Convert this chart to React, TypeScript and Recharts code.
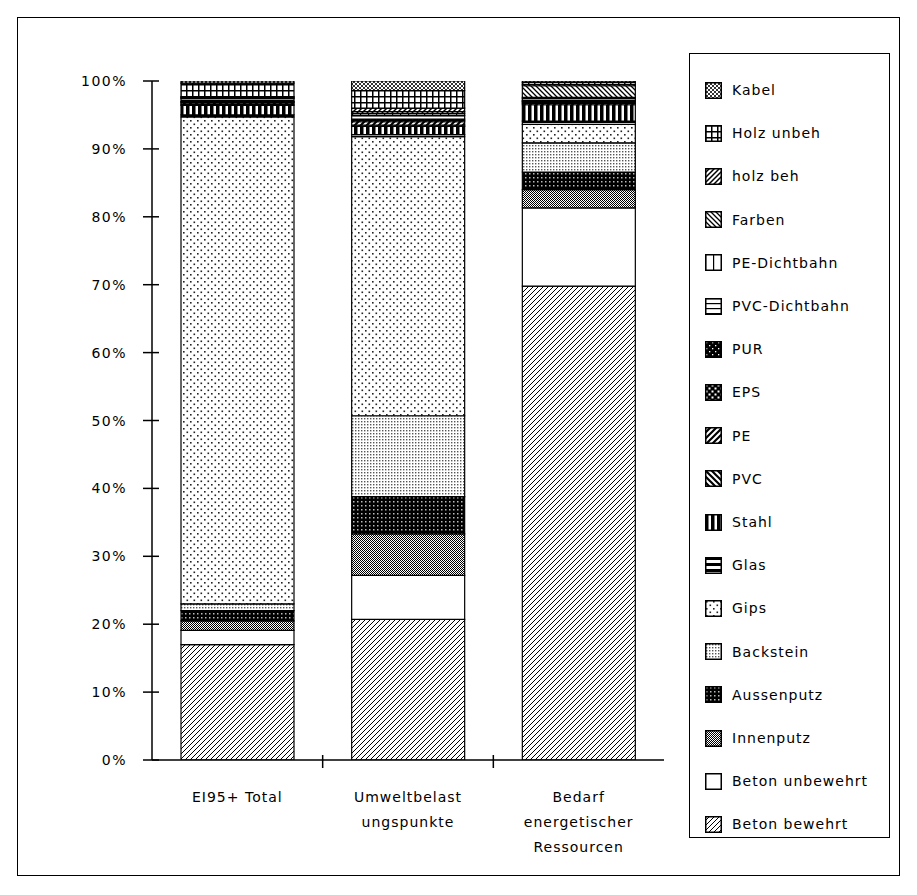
import { Bar, BarChart, XAxis, YAxis } from "recharts";

// Building materials, bottom of the stack first
const materials = [
  "Beton bewehrt",
  "Beton unbewehrt",
  "Innenputz",
  "Aussenputz",
  "Backstein",
  "Gips",
  "Glas",
  "Stahl",
  "PVC",
  "PE",
  "EPS",
  "PUR",
  "PVC-Dichtbahn",
  "PE-Dichtbahn",
  "Farben",
  "holz beh",
  "Holz unbeh",
  "Kabel",
];

const categories = [
  "EI95+ Total",
  "Umweltbelastungspunkte",
  "Bedarf energetischer Ressourcen",
];

const categoryLines = [
  ["EI95+ Total"],
  ["Umweltbelast", "ungspunkte"],
  ["Bedarf", "energetischer", "Ressourcen"],
];

// Shares in percent, same order as materials
const eiTotalShares = [17.0, 2.1, 1.4, 1.5, 1.0, 71.7, 0.3, 1.4, 0.2, 0.2, 0.1, 0.1, 0.4, 0.1, 0.1, 0.1, 2.0, 0.3];
const ubpShares = [20.7, 6.5, 6.1, 5.5, 11.9, 41.1, 0.3, 1.2, 0.2, 0.5, 0.2, 0.2, 0.5, 0.3, 0.3, 0.5, 2.6, 1.4];
const energyShares = [69.8, 11.5, 2.7, 2.6, 4.3, 2.7, 0.5, 2.4, 0.2, 0.2, 0.1, 0.1, 0.3, 0.2, 1.7, 0.2, 0.3, 0.2];

const yTicks = [0, 10, 20, 30, 40, 50, 60, 70, 80, 90, 100];

const sharesByCategory = [eiTotalShares, ubpShares, energyShares];

const data = categories.map((name, ci) => {
  const row: Record<string, string | number> = { name };
  materials.forEach((m, mi) => {
    row[m] = sharesByCategory[ci][mi];
  });
  return row;
});

const CHART_W = 917;
const CHART_H = 895;
const MARGIN = { top: 81, right: 253, bottom: 35, left: 0 };
const Y_AXIS_W = 152;
const BAND = (CHART_W - MARGIN.left - MARGIN.right - Y_AXIS_W) / categories.length;

const FONT = "'DejaVu Sans', sans-serif";

function diag(size: number, dir: "up" | "down", width: number) {
  const s = size;
  if (dir === "up") {
    return (
      <path
        d={`M0,${s} L${s},0 M${-s / 2},${s / 2} L${s / 2},${-s / 2} M${s / 2},${s * 1.5} L${s * 1.5},${s / 2}`}
        stroke="#000"
        strokeWidth={width}
      />
    );
  }
  return (
    <path
      d={`M0,0 L${s},${s} M${-s / 2},${s / 2} L${s / 2},${s * 1.5} M${s / 2},${-s / 2} L${s * 1.5},${s / 2}`}
      stroke="#000"
      strokeWidth={width}
    />
  );
}

function Pat({ id, w, h, bg = "#fff", children }: { id: number; w: number; h: number; bg?: string; children?: any }) {
  return (
    <pattern id={`pat-${id}`} width={w} height={h} patternUnits="userSpaceOnUse">
      <rect width={w} height={h} fill={bg} />
      {children}
    </pattern>
  );
}

// Bitmap-style fill patterns, one per material index
function Patterns() {
  return (
    <svg width={0} height={0} style={{ position: "absolute" }}>
      <defs>
        <Pat id={0} w={5} h={5}>{diag(5, "up", 1)}</Pat>
        <Pat id={1} w={4} h={4} />
        <Pat id={2} w={2} h={2}>
          <rect x={0} y={0} width={1} height={1} fill="#000" />
          <rect x={1} y={1} width={1} height={1} fill="#000" />
        </Pat>
        <Pat id={3} w={4} h={4} bg="#000">
          <rect x={1} y={1} width={1.5} height={1.5} fill="#bbb" />
        </Pat>
        <Pat id={4} w={3} h={3}>
          <rect x={1} y={1} width={1.4} height={1.4} fill="#555" />
        </Pat>
        <Pat id={5} w={7} h={7}>
          <rect x={1} y={1} width={1.6} height={1.6} fill="#222" />
          <rect x={4.5} y={4.5} width={1.6} height={1.6} fill="#222" />
        </Pat>
        <Pat id={6} w={6} h={6}>
          <rect x={0} y={0} width={6} height={3} fill="#000" />
        </Pat>
        <Pat id={7} w={6} h={6}>
          <rect x={0} y={0} width={3.5} height={6} fill="#000" />
        </Pat>
        <Pat id={8} w={6} h={6}>{diag(6, "down", 2.2)}</Pat>
        <Pat id={9} w={6} h={6}>{diag(6, "up", 2.2)}</Pat>
        <Pat id={10} w={6} h={6} bg="#000">
          <rect x={0.5} y={0.5} width={2} height={2} fill="#fff" />
          <rect x={3.5} y={3.5} width={2} height={2} fill="#fff" />
        </Pat>
        <Pat id={11} w={6} h={6} bg="#000">
          <rect x={1} y={1} width={1.3} height={1.3} fill="#fff" />
          <rect x={4} y={4} width={1.3} height={1.3} fill="#fff" />
        </Pat>
        <Pat id={12} w={5} h={5}>
          <rect x={0} y={0} width={5} height={1.2} fill="#000" />
        </Pat>
        <Pat id={13} w={8} h={8}>
          <rect x={0} y={0} width={1.2} height={8} fill="#000" />
        </Pat>
        <Pat id={14} w={5} h={5}>{diag(5, "down", 1.3)}</Pat>
        <Pat id={15} w={5} h={5}>{diag(5, "up", 1.5)}</Pat>
        <Pat id={16} w={6} h={6}>
          <rect x={0} y={0} width={6} height={1.5} fill="#000" />
          <rect x={0} y={0} width={1.5} height={6} fill="#000" />
        </Pat>
        <Pat id={17} w={4} h={4}>
          {diag(4, "up", 0.8)}
          {diag(4, "down", 0.8)}
        </Pat>
      </defs>
    </svg>
  );
}

function YTick(props: any) {
  const { x, y, payload } = props;
  return (
    <g>
      <line x1={x - 9} x2={x + 7} y1={y} y2={y} stroke="#000" strokeWidth={1.5} />
      <text
        x={x - 25}
        y={y}
        textAnchor="end"
        dominantBaseline="central"
        fontSize={14}
        letterSpacing={1.5}
        fill="#000"
        fontFamily={FONT}
      >
        {`${payload.value}%`}
      </text>
    </g>
  );
}

function XTick(props: any) {
  const { x, y, payload } = props;
  const idx = payload.index ?? categories.indexOf(payload.value);
  const lines = categoryLines[idx] ?? [payload.value];
  return (
    <g>
      {idx < categories.length - 1 && (
        <line x1={x + BAND / 2} x2={x + BAND / 2} y1={y - 5} y2={y + 8} stroke="#000" strokeWidth={1.5} />
      )}
      {lines.map((line: string, i: number) => (
        <text
          key={line}
          x={x}
          y={y + 37 + i * 25}
          textAnchor="middle"
          dominantBaseline="central"
          fontSize={14}
          letterSpacing={1}
          fill="#000"
          fontFamily={FONT}
        >
          {line}
        </text>
      ))}
    </g>
  );
}

function MaterialLegend() {
  const items = [...materials].map((m, i) => ({ m, i })).reverse();
  return (
    <div
      style={{
        position: "absolute",
        left: 689,
        top: 53,
        width: 201,
        height: 785,
        border: "1.5px solid #000",
        boxSizing: "border-box",
        background: "#fff",
      }}
    >
      {items.map(({ m, i }, row) => (
        <div
          key={m}
          style={{
            position: "absolute",
            left: 15,
            top: 36 + row * 43.2 - 9,
            height: 18,
            display: "flex",
            alignItems: "center",
            fontSize: 14,
            letterSpacing: 1,
            whiteSpace: "nowrap",
          }}
        >
          <svg width={17} height={17} style={{ marginRight: 10 }}>
            <rect x={0.75} y={0.75} width={15.5} height={15.5} fill={`url(#pat-${i})`} stroke="#000" strokeWidth={1.5} />
          </svg>
          <span>{m}</span>
        </div>
      ))}
    </div>
  );
}

export default function App() {
  return (
    <div
      style={{
        position: "absolute",
        left: 0,
        top: 0,
        width: CHART_W,
        height: CHART_H,
        background: "#fff",
        fontFamily: FONT,
        color: "#000",
      }}
    >
      <Patterns />
      <div
        style={{
          position: "absolute",
          left: 17,
          top: 17,
          width: 883,
          height: 859,
          border: "1.5px solid #000",
          boxSizing: "border-box",
        }}
      />
      <div style={{ position: "absolute", left: 0, top: 0 }}>
        <BarChart width={CHART_W} height={CHART_H} data={data} margin={MARGIN} barCategoryGap={29}>
          <XAxis
            dataKey="name"
            axisLine={{ stroke: "#000", strokeWidth: 1.5 }}
            tickLine={false}
            tickSize={0}
            tickMargin={0}
            height={100}
            interval={0}
            tick={<XTick />}
          />
          <YAxis
            domain={[0, 100]}
            ticks={yTicks}
            width={Y_AXIS_W}
            axisLine={{ stroke: "#000", strokeWidth: 1.5 }}
            tickLine={false}
            tickSize={0}
            tickMargin={0}
            tick={<YTick />}
            allowDataOverflow
          />
          {materials.map((m, i) => (
            <Bar
              key={m}
              dataKey={m}
              stackId="total"
              fill={`url(#pat-${i})`}
              stroke="#000"
              strokeWidth={1.2}
              isAnimationActive={false}
            />
          ))}
        </BarChart>
      </div>
      <MaterialLegend />
    </div>
  );
}
